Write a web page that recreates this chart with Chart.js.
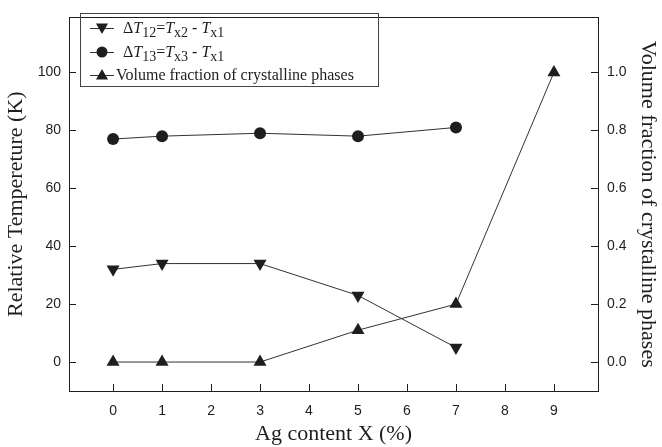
<!DOCTYPE html>
<html>
<head>
<meta charset="utf-8">
<script src="https://cdn.jsdelivr.net/npm/chart.js@4.4.0/dist/chart.umd.min.js"></script>
<style>
  html, body { margin: 0; padding: 0; background: #fff; }
  #wrap { width: 662px; height: 447px; }
</style>
</head>
<body>
<div id="wrap"><canvas id="chart"></canvas></div>
<script>
// Data
const agContent = [0, 1, 3, 5, 7, 9];
const dT12 = [32, 34, 34, 23, 5];          // K
const dT13 = [77, 78, 79, 78, 81];         // K
const volFraction = [0, 0, 0, 0.11, 0.2, 1.0];

const xTicks = [0, 1, 2, 3, 4, 5, 6, 7, 8, 9];
const yTicks = [0, 20, 40, 60, 80, 100];
const y1Ticks = [0, 0.2, 0.4, 0.6, 0.8, 1.0];

const ink = '#1e1e1e';
const lineCol = '#333';
const tickFont = { family: '"Liberation Sans", Arial, sans-serif', size: 14 };
const titleFont = { family: '"Liberation Serif", "Times New Roman", serif', size: 22 };

function toPoints(xs, ys) {
  return ys.map((y, i) => ({ x: xs[i], y: y }));
}

// inward tick marks, frame and the legend with subscripts
const decorPlugin = {
  id: 'decor',
  afterDraw(chart) {
    const ctx = chart.ctx;
    const a = chart.chartArea;
    const sx = chart.scales.x, sy = chart.scales.y, sy1 = chart.scales.y1;
    ctx.save();
    ctx.strokeStyle = ink;
    ctx.lineWidth = 1;
    ctx.strokeRect(Math.round(a.left) + 0.5, Math.round(a.top) + 0.5,
      Math.round(a.right - a.left), Math.round(a.bottom - a.top));
    ctx.beginPath();
    sx.ticks.forEach(t => {
      const p = Math.round(sx.getPixelForValue(t.value)) + 0.5;
      ctx.moveTo(p, a.bottom); ctx.lineTo(p, a.bottom - 7);
    });
    sy.ticks.forEach(t => {
      const p = Math.round(sy.getPixelForValue(t.value)) + 0.5;
      ctx.moveTo(a.left, p); ctx.lineTo(a.left + 7, p);
    });
    sy1.ticks.forEach(t => {
      const p = Math.round(sy1.getPixelForValue(t.value)) + 0.5;
      ctx.moveTo(a.right, p); ctx.lineTo(a.right - 7, p);
    });
    ctx.stroke();

    // legend
    const bx = 80.5, by = 13.5, bw = 298, bh = 73;
    ctx.strokeStyle = '#444';
    ctx.strokeRect(bx, by, bw, bh);
    const rows = [28, 52, 75];
    const styles = [
      { style: 'triangle', rot: 180, r: 7 },
      { style: 'circle', rot: 0, r: 5.5 },
      { style: 'triangle', rot: 0, r: 7 }
    ];
    rows.forEach((ry, i) => {
      ctx.strokeStyle = lineCol;
      ctx.beginPath();
      ctx.moveTo(90, ry + 0.5); ctx.lineTo(114, ry + 0.5);
      ctx.stroke();
      ctx.fillStyle = ink;
      Chart.helpers.drawPoint(ctx, {
        pointStyle: styles[i].style, radius: styles[i].r, rotation: styles[i].rot,
        borderWidth: 0
      }, 102, ry + (styles[i].style === 'triangle' ? (styles[i].rot ? -1 : 1) : 0));
    });

    const serif = '"Liberation Serif", "Times New Roman", serif';
    function run(parts, x, y) {
      ctx.textBaseline = 'alphabetic';
      ctx.textAlign = 'left';
      ctx.fillStyle = ink;
      parts.forEach(p => {
        const size = p.sub ? 14 : 16;
        ctx.font = (p.it ? 'italic ' : '') + size + 'px ' + serif;
        ctx.fillText(p.t, x, y + (p.sub ? 4 : 0));
        x += ctx.measureText(p.t).width;
      });
    }
    run([{ t: 'Δ' }, { t: 'T', it: true }, { t: '12', sub: true }, { t: '=' },
         { t: 'T', it: true }, { t: 'x2', sub: true }, { t: ' - ' },
         { t: 'T', it: true }, { t: 'x1', sub: true }], 123, rows[0] + 5);
    run([{ t: 'Δ' }, { t: 'T', it: true }, { t: '13', sub: true }, { t: '=' },
         { t: 'T', it: true }, { t: 'x3', sub: true }, { t: ' - ' },
         { t: 'T', it: true }, { t: 'x1', sub: true }], 123, rows[1] + 5);
    run([{ t: 'Volume fraction of crystalline phases' }], 116, rows[2] + 5);
    ctx.restore();
  }
};

const commonLine = {
  borderColor: lineCol,
  borderWidth: 1,
  backgroundColor: ink,
  pointBorderWidth: 0,
  showLine: true,
  tension: 0
};

new Chart(document.getElementById('chart'), {
  type: 'scatter',
  data: {
    datasets: [
      Object.assign({}, commonLine, {
        label: 'ΔT12=Tx2 - Tx1',
        data: toPoints(agContent, dT12),
        pointStyle: 'triangle', pointRotation: 180, pointRadius: 7.5,
        yAxisID: 'y'
      }),
      Object.assign({}, commonLine, {
        label: 'ΔT13=Tx3 - Tx1',
        data: toPoints(agContent, dT13),
        pointStyle: 'circle', pointRadius: 6,
        yAxisID: 'y'
      }),
      Object.assign({}, commonLine, {
        label: 'Volume fraction of crystalline phases',
        data: toPoints(agContent, volFraction),
        pointStyle: 'triangle', pointRadius: 7.5,
        yAxisID: 'y1'
      })
    ]
  },
  options: {
    responsive: true,
    maintainAspectRatio: false,
    animation: false,
    layout: { padding: { top: 7, left: 0, right: 0, bottom: 0 } },
    plugins: {
      legend: { display: false },
      tooltip: { enabled: false }
    },
    scales: {
      x: {
        type: 'linear',
        min: -0.9, max: 9.9,
        afterBuildTicks: s => { s.ticks = xTicks.map(v => ({ value: v })); },
        afterFit: s => { s.height = 56; },
        grid: { display: false, drawTicks: false },
        border: { display: false },
        ticks: { color: ink, font: tickFont, padding: 12 },
        title: { display: true, text: 'Ag content X (%)', color: ink, font: titleFont,
                 padding: { top: 0, bottom: 0 } }
      },
      y: {
        position: 'left',
        min: -10, max: 119,
        afterBuildTicks: s => { s.ticks = yTicks.map(v => ({ value: v })); },
        afterFit: s => { s.width = 69; },
        grid: { display: false, drawTicks: false },
        border: { display: false },
        ticks: { color: ink, font: tickFont, padding: 8 },
        title: { display: true, text: 'Relative Tempereture (K)', color: ink, font: titleFont,
                 padding: { top: 3, bottom: 0 } }
      },
      y1: {
        position: 'right',
        min: -0.1, max: 1.19,
        afterBuildTicks: s => { s.ticks = y1Ticks.map(v => ({ value: v })); },
        afterFit: s => { s.width = 64; },
        grid: { display: false, drawTicks: false },
        border: { display: false },
        ticks: { color: ink, font: tickFont, padding: 9, callback: v => v.toFixed(1) },
        title: { display: true, text: 'Volume fraction of crystalline phases', color: ink, font: titleFont,
                 padding: { top: 1, bottom: 0 } }
      }
    }
  },
  plugins: [decorPlugin]
});
</script>
</body>
</html>
